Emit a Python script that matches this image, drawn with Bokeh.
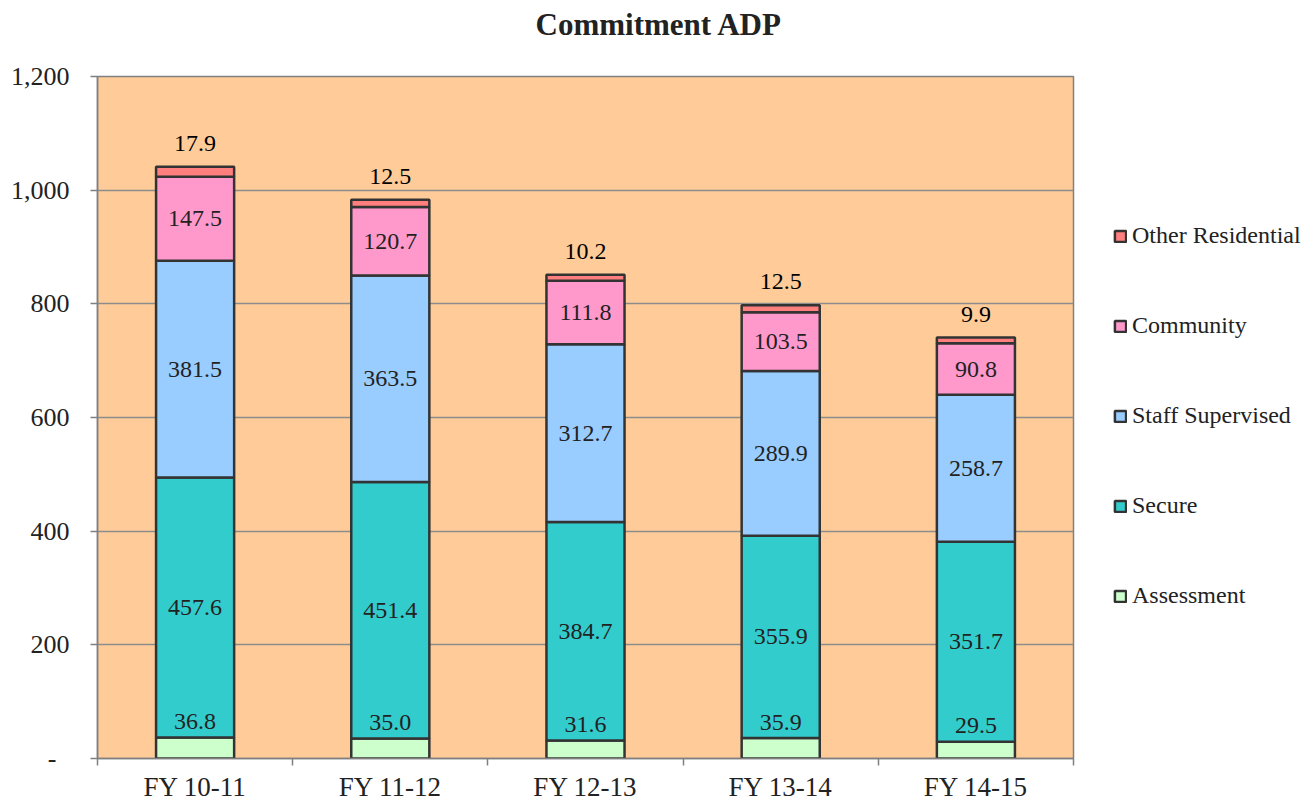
from bokeh.plotting import figure
from bokeh.models import (ColumnDataSource, Range1d, LinearAxis, FixedTicker, Grid, Title,
                          NumeralTickFormatter, Legend, LegendItem, LabelSet)
from bokeh.embed import file_html
from bokeh.resources import INLINE

categories = ["FY 10-11", "FY 11-12", "FY 12-13", "FY 13-14", "FY 14-15"]
assessment = [36.8, 35.0, 31.6, 35.9, 29.5]
secure = [457.6, 451.4, 384.7, 355.9, 351.7]
staff_supervised = [381.5, 363.5, 312.7, 289.9, 258.7]
community = [147.5, 120.7, 111.8, 103.5, 90.8]
other_residential = [17.9, 12.5, 10.2, 12.5, 9.9]
series_names = ["Assessment", "Secure", "Staff Supervised", "Community", "Other Residential"]
y_ticks = [0, 200, 400, 600, 800, 1000, 1200]
title_text = "Commitment ADP"

colors = ["#CCFFCC", "#33CCCC", "#99CCFF", "#FF99CC", "#FF7F7F"]
FONT = "Liberation Serif"
TXT = "#222222"

n = len(categories)
xs = [i + 0.5 for i in range(n)]
keys = ["a", "s", "ss", "c", "o"]
data = dict(x=xs, a=assessment, s=secure, ss=staff_supervised, c=community, o=other_residential)
b1 = list(assessment)
b2 = [a + s for a, s in zip(assessment, secure)]
b3 = [b + v for b, v in zip(b2, staff_supervised)]
b4 = [b + v for b, v in zip(b3, community)]
b5 = [b + v for b, v in zip(b4, other_residential)]
data["ya"] = [a + 28 for a in assessment]
data["ys"] = [(p + q) / 2 for p, q in zip(b1, b2)]
data["yss"] = [(p + q) / 2 for p, q in zip(b2, b3)]
data["yc"] = [(p + q) / 2 for p, q in zip(b3, b4)]
data["yo"] = b5
for k, arr in zip(keys, [assessment, secure, staff_supervised, community, other_residential]):
    data["t" + k] = ["%.1f" % v for v in arr]
src = ColumnDataSource(data)

p = figure(frame_width=976, frame_height=682, output_backend="svg", toolbar_location=None,
           x_range=Range1d(0, n), y_range=Range1d(0, 1200),
           x_axis_type=None, y_axis_type=None,
           min_border_left=97, min_border_right=232, min_border_top=76, min_border_bottom=36)
p.background_fill_color = "#FFCC99"
p.border_fill_color = "white"
p.outline_line_color = "#808080"
p.outline_line_width = 1.5

renderers = p.vbar_stack(keys, x="x", width=0.4, source=src, fill_color=colors,
                         line_color="#333333", line_width=2.5)

# y axis
yax = LinearAxis(ticker=FixedTicker(ticks=y_ticks), formatter=NumeralTickFormatter(format="0,0"))
yax.major_label_overrides = {0: "-\u00a0\u00a0"}
yax.axis_line_color = "#808080"
yax.axis_line_width = 1.5
yax.major_tick_line_color = "#808080"
yax.major_tick_line_width = 1.5
yax.major_tick_in = 0
yax.major_tick_out = 7
yax.minor_tick_line_color = None
yax.major_label_text_font = FONT
yax.major_label_text_font_size = "26px"
yax.major_label_text_color = TXT
yax.major_label_standoff = 21
p.add_layout(yax, "left")

# x axis: labels at centers, boundary tick marks as minor ticks
xax = LinearAxis(ticker=FixedTicker(ticks=xs, minor_ticks=list(range(n + 1))))
xax.major_label_overrides = {x: c for x, c in zip(xs, categories)}
xax.axis_line_color = "#808080"
xax.axis_line_width = 1.5
xax.major_tick_line_color = None
xax.major_tick_in = 0
xax.major_tick_out = 0
xax.minor_tick_line_color = "#808080"
xax.minor_tick_line_width = 1.5
xax.minor_tick_in = 0
xax.minor_tick_out = 7
xax.major_label_text_font = FONT
xax.major_label_text_font_size = "27px"
xax.major_label_text_color = TXT
xax.major_label_standoff = 6
p.add_layout(xax, "below")

g = Grid(dimension=1, ticker=FixedTicker(ticks=y_ticks), grid_line_color="#8C8C8C", grid_line_width=1.5)
p.add_layout(g)

for k in ["a", "s", "ss", "c"]:
    ls = LabelSet(x="x", y="y" + k, text="t" + k, source=src, text_align="center",
                  text_baseline="middle", text_font=FONT, text_font_size="24px", text_color=TXT)
    p.add_layout(ls)
lo = LabelSet(x="x", y="yo", text="to", source=src, text_align="center", text_baseline="bottom",
              y_offset=16, text_font=FONT, text_font_size="24px", text_color="#000000")
p.add_layout(lo)

items = [LegendItem(label=nm, renderers=[r]) for nm, r in zip(series_names, renderers)][::-1]
legend = Legend(items=items, location=(40, 149), glyph_width=14, glyph_height=14,
                label_standoff=5, spacing=63, padding=0, margin=0,
                border_line_alpha=0, background_fill_alpha=0,
                label_text_font=FONT, label_text_font_size="24px", label_text_color=TXT,
                label_height=24)
p.add_layout(legend, "right")

# a trailing empty line lifts the title toward the top of the page
p.title = Title(text=title_text + "\n", align="left", offset=438, standoff=0, vertical_align="bottom",
                text_line_height=1.0, text_font=FONT,
                text_font_style="bold", text_font_size="31px", text_color=TXT)

open("out.html", "w").write(file_html(p, INLINE))
